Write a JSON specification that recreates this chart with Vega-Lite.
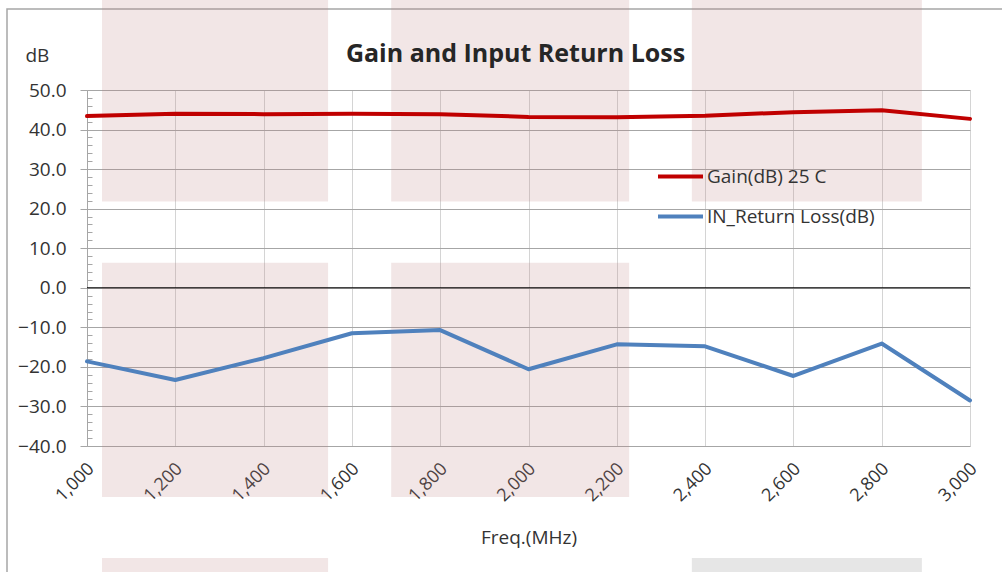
{
  "$schema": "https://vega.github.io/schema/vega-lite/v6.json",
  "width": 883,
  "height": 356,
  "autosize": "none",
  "padding": {"left": 87, "top": 90, "right": 32, "bottom": 126},
  "background": "white",
  "config": {
    "font": "Open Sans",
    "view": {"stroke": null},
    "axis": {"labelColor": "#333333", "titleColor": "#333333", "labelFont": "Open Sans", "titleFont": "Open Sans"},
    "axisX": {
      "format": ",.0f",
      "labelAngle": -45,
      "labelAlign": "right",
      "labelBaseline": "middle",
      "labelPadding": 20,
      "labelOffset": 4,
      "labelFontSize": 18,
      "ticks": false,
      "domain": false,
      "grid": true,
      "gridColor": "#d4d4d4",
      "gridWidth": 1,
      "titleFontSize": 19,
      "titleFontWeight": "normal",
      "titleBaseline": "alphabetic",
      "titleY": 97
    }
  },
  "title": {
    "text": "Gain and Input Return Loss",
    "font": "Open Sans",
    "fontSize": 25,
    "fontWeight": "bold",
    "color": "#262626",
    "anchor": "middle",
    "frame": "group",
    "baseline": "alphabetic",
    "offset": 0,
    "dx": -13,
    "dy": 96
  },
  "datasets": {
    "series": [
      {"freq": 1000, "series": "Gain(dB) 25 C", "value": 43.4},
      {"freq": 1200, "series": "Gain(dB) 25 C", "value": 44.0},
      {"freq": 1400, "series": "Gain(dB) 25 C", "value": 43.9},
      {"freq": 1600, "series": "Gain(dB) 25 C", "value": 44.0},
      {"freq": 1800, "series": "Gain(dB) 25 C", "value": 43.9},
      {"freq": 2000, "series": "Gain(dB) 25 C", "value": 43.2},
      {"freq": 2200, "series": "Gain(dB) 25 C", "value": 43.1},
      {"freq": 2400, "series": "Gain(dB) 25 C", "value": 43.5},
      {"freq": 2600, "series": "Gain(dB) 25 C", "value": 44.4},
      {"freq": 2800, "series": "Gain(dB) 25 C", "value": 44.9},
      {"freq": 3000, "series": "Gain(dB) 25 C", "value": 42.7},
      {"freq": 1000, "series": "IN_Return Loss(dB)", "value": -18.6},
      {"freq": 1200, "series": "IN_Return Loss(dB)", "value": -23.3},
      {"freq": 1400, "series": "IN_Return Loss(dB)", "value": -17.8},
      {"freq": 1600, "series": "IN_Return Loss(dB)", "value": -11.5},
      {"freq": 1800, "series": "IN_Return Loss(dB)", "value": -10.7},
      {"freq": 2000, "series": "IN_Return Loss(dB)", "value": -20.6},
      {"freq": 2200, "series": "IN_Return Loss(dB)", "value": -14.3},
      {"freq": 2400, "series": "IN_Return Loss(dB)", "value": -14.8},
      {"freq": 2600, "series": "IN_Return Loss(dB)", "value": -22.3},
      {"freq": 2800, "series": "IN_Return Loss(dB)", "value": -14.1},
      {"freq": 3000, "series": "IN_Return Loss(dB)", "value": -28.5}
    ],
    "watermark": [
      {"f1": 1034, "f2": 1546, "d1": 21.8, "d2": 75, "tone": "rose"},
      {"f1": 1689, "f2": 2228, "d1": 21.8, "d2": 75, "tone": "rose"},
      {"f1": 2370, "f2": 2891, "d1": 21.8, "d2": 75, "tone": "rose"},
      {"f1": 1034, "f2": 1546, "d1": -52.9, "d2": 6.3, "tone": "rose"},
      {"f1": 1689, "f2": 2228, "d1": -52.9, "d2": 6.3, "tone": "rose"},
      {"f1": 1034, "f2": 1546, "d1": -85, "d2": -68.3, "tone": "rose"},
      {"f1": 2370, "f2": 2891, "d1": -85, "d2": -68.3, "tone": "gray"}
    ]
  },
  "layer": [
    {
      "data": {"values": [{}]},
      "mark": {"type": "rect", "filled": false, "stroke": "#a6a6a6", "strokeWidth": 1.5, "clip": false},
      "encoding": {
        "x": {"datum": 818.8, "type": "quantitative", "title": "Freq.(MHz)", "scale": {"domain": [1000, 3000], "nice": false, "zero": false}, "axis": {"values": [1000, 1200, 1400, 1600, 1800, 2000, 2200, 2400, 2600, 2800, 3000]}},
        "x2": {"datum": 5000},
        "y": {"datum": 70.48, "type": "quantitative", "scale": {"domain": [-40, 50], "nice": false, "zero": false}, "axis": null},
        "y2": {"datum": -300}
      }
    },
    {
      "data": {"name": "watermark"},
      "mark": {"type": "rect", "opacity": 0.2, "clip": false},
      "encoding": {
        "x": {"field": "f1", "type": "quantitative", "title": "Freq.(MHz)", "axis": {"values": [1000, 1200, 1400, 1600, 1800, 2000, 2200, 2400, 2600, 2800, 3000]}},
        "x2": {"field": "f2"},
        "y": {"field": "d1", "type": "quantitative", "axis": null},
        "y2": {"field": "d2"},
        "fill": {"field": "tone", "type": "nominal", "scale": {"domain": ["rose", "gray"], "range": ["#c08080", "#808080"]}, "legend": null}
      }
    },
    {
      "data": {"values": [{}]},
      "mark": {"type": "rule", "color": "#000000", "strokeWidth": 1},
      "encoding": {
        "y": {
          "datum": 0,
          "type": "quantitative",
          "axis": {
            "orient": "left",
            "values": [-40, -38, -36, -34, -32, -30, -28, -26, -24, -22, -20, -18, -16, -14, -12, -10, -8, -6, -4, -2, 0, 2, 4, 6, 8, 10, 12, 14, 16, 18, 20, 22, 24, 26, 28, 30, 32, 34, 36, 38, 40, 42, 44, 46, 48, 50],
            "tickSize": -5,
            "tickColor": "#a6a6a6",
            "labels": false,
            "domain": false,
            "grid": false,
            "title": null
          }
        }
      }
    },
    {
      "data": {"name": "series"},
      "mark": {"type": "line", "strokeWidth": 4, "strokeCap": "round", "strokeJoin": "round"},
      "encoding": {
        "x": {"field": "freq", "type": "quantitative", "title": "Freq.(MHz)", "axis": {"values": [1000, 1200, 1400, 1600, 1800, 2000, 2200, 2400, 2600, 2800, 3000]}},
        "y": {
          "field": "value",
          "type": "quantitative",
          "axis": {
            "orient": "left",
            "values": [-40, -30, -20, -10, 0, 10, 20, 30, 40, 50],
            "format": ".1f",
            "labelFontSize": 19,
            "labelPadding": 14,
            "tickSize": 7,
            "tickColor": "#a6a6a6",
            "domain": true,
            "domainColor": "#a6a6a6",
            "grid": true,
            "gridColor": "#a6a6a6",
            "title": "dB",
            "titleFontSize": 19,
            "titleFontWeight": "normal",
            "titleAngle": 0,
            "titleAlign": "left",
            "titleBaseline": "alphabetic",
            "titleX": -62,
            "titleY": -29
          }
        },
        "color": {
          "field": "series",
          "type": "nominal",
          "scale": {"domain": ["Gain(dB) 25 C", "IN_Return Loss(dB)"], "range": ["#c00000", "#4f81bd"]},
          "legend": {
            "orient": "none",
            "legendX": 569,
            "legendY": 62,
            "title": null,
            "padding": 0,
            "symbolType": "stroke",
            "symbolSize": 2025,
            "symbolStrokeWidth": 4,
            "labelFontSize": 19,
            "labelFont": "Open Sans",
            "labelColor": "#333333",
            "labelOffset": 2,
            "labelLimit": 400,
            "rowPadding": 5
          }
        }
      }
    }
  ],
  "resolve": {"axis": {"y": "independent"}}
}
